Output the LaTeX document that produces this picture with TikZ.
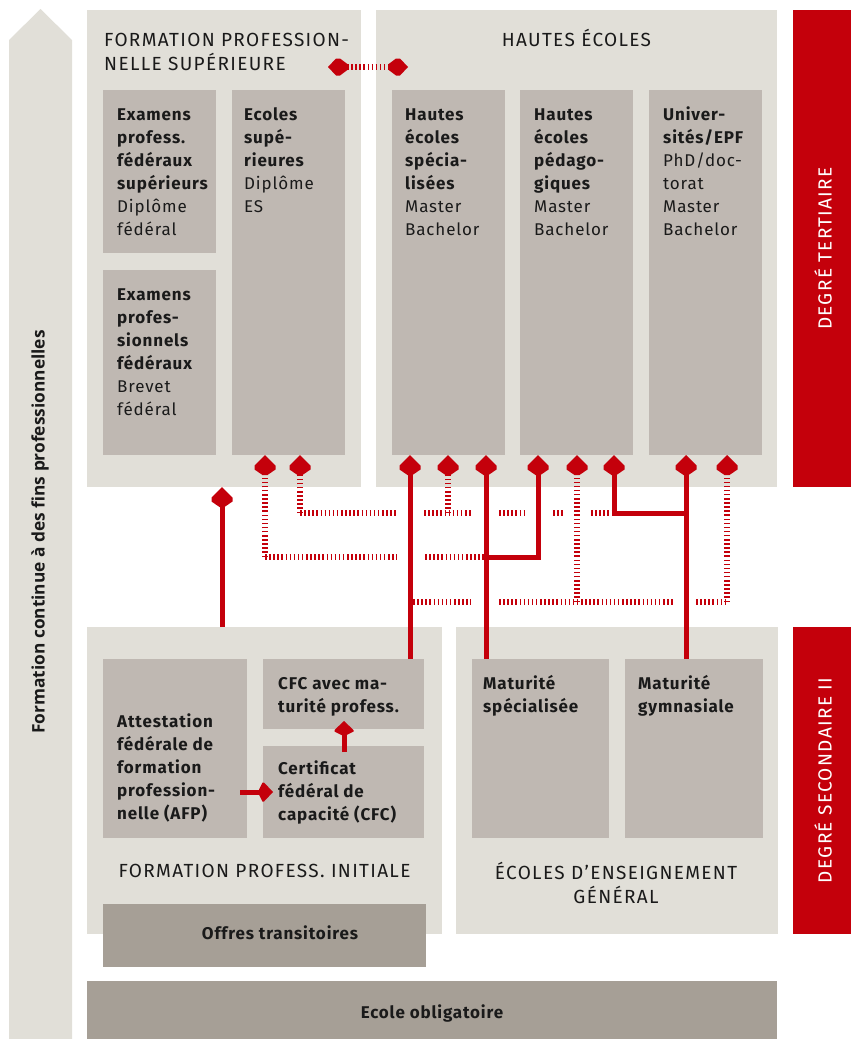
\documentclass[tikz,border=0pt]{standalone}
\usepackage{fontspec}
\setmainfont{Fira Sans}[LetterSpace=5]
\newfontfamily\headfont{Fira Sans}[LetterSpace=7]
\newfontfamily\sidefont{Open Sans}
\usetikzlibrary{arrows.meta,calc}
\definecolor{beige}{HTML}{E1DFD8}
\definecolor{boxgray}{HTML}{BFB8B2}
\definecolor{darkgray}{HTML}{A69F96}
\definecolor{swissred}{HTML}{C4000B}
\definecolor{txt}{HTML}{1A1A1A}
\newcommand\celltxt{\fontsize{17}{23}\selectfont}
\newcommand\headtxt{\headfont\fontsize{19}{24}\selectfont}
\newcommand\fs{\rule{0pt}{16pt}}
\pgfdeclarearrow{
  name = SwissHead,
  setup code = {
    \pgfarrowssettipend{20pt}
    \pgfarrowssetlineend{1pt}
    \pgfarrowssetbackend{0pt}
    \pgfarrowssetvisualbackend{0pt}
  },
  drawing code = {
    \pgfpathmoveto{\pgfqpoint{20pt}{0pt}}
    \pgfpathlineto{\pgfqpoint{9.5pt}{10.5pt}}
    \pgfpathlineto{\pgfqpoint{5.5pt}{10.5pt}}
    \pgfpathlineto{\pgfqpoint{0pt}{2.5pt}}
    \pgfpathlineto{\pgfqpoint{0pt}{-2.5pt}}
    \pgfpathlineto{\pgfqpoint{5.5pt}{-10.5pt}}
    \pgfpathlineto{\pgfqpoint{9.5pt}{-10.5pt}}
    \pgfpathclose
    \pgfusepathqfill
  }
}
\pgfdeclarearrow{
  name = SwissSmall,
  setup code = {
    \pgfarrowssettipend{14pt}
    \pgfarrowssetlineend{1pt}
    \pgfarrowssetbackend{0pt}
    \pgfarrowssetvisualbackend{0pt}
  },
  drawing code = {
    \pgfpathmoveto{\pgfqpoint{14pt}{0pt}}
    \pgfpathlineto{\pgfqpoint{5pt}{9.5pt}}
    \pgfpathlineto{\pgfqpoint{3.5pt}{9.5pt}}
    \pgfpathlineto{\pgfqpoint{0pt}{2.5pt}}
    \pgfpathlineto{\pgfqpoint{0pt}{-2.5pt}}
    \pgfpathlineto{\pgfqpoint{3.5pt}{-9.5pt}}
    \pgfpathlineto{\pgfqpoint{5pt}{-9.5pt}}
    \pgfpathclose
    \pgfusepathqfill
  }
}
\pgfdeclarearrow{
  name = SwissSide,
  setup code = {
    \pgfarrowssettipend{20pt}
    \pgfarrowssetlineend{1pt}
    \pgfarrowssetbackend{0pt}
    \pgfarrowssetvisualbackend{0pt}
  },
  drawing code = {
    \pgfpathmoveto{\pgfqpoint{20pt}{0pt}}
    \pgfpathlineto{\pgfqpoint{12pt}{8.5pt}}
    \pgfpathlineto{\pgfqpoint{8pt}{8.5pt}}
    \pgfpathlineto{\pgfqpoint{0pt}{2.5pt}}
    \pgfpathlineto{\pgfqpoint{0pt}{-2.5pt}}
    \pgfpathlineto{\pgfqpoint{8pt}{-8.5pt}}
    \pgfpathlineto{\pgfqpoint{12pt}{-8.5pt}}
    \pgfpathclose
    \pgfusepathqfill
  }
}
\tikzset{
  area/.style={fill=beige, inner sep=0pt, outer sep=0pt, anchor=north west},
  cell/.style={fill=boxgray, inner sep=0pt, outer sep=0pt, anchor=north west},
  darkcell/.style={fill=darkgray, inner sep=0pt, outer sep=0pt, anchor=north west},
  redbar/.style={fill=swissred, inner sep=0pt, outer sep=0pt, anchor=north west},
  celltext/.style={anchor=north west, inner sep=0pt, align=left, font=\celltxt, text=txt},
  headtext/.style={inner sep=0pt, font=\headtxt, text=txt},
  bartext/.style={inner sep=0pt, font=\headtxt, text=white, rotate=90},
  solidline/.style={draw=swissred, line width=5pt, line join=miter},
  solidarrow/.style={solidline, -SwissHead},
  dotline/.style={draw=swissred, line width=5.5pt, dash pattern=on 1.5pt off 2.6pt},
  dotarrow/.style={dotline, -SwissHead},
}
\begin{document}
\begin{tikzpicture}[x=1pt,y=-1pt]
\useasboundingbox (0,0) rectangle (851,1039);

% left big arrow
\fill[beige] (9,1039) -- (9,40) -- (40.5,9) -- (72,40) -- (72,1039) -- cycle;
\node[bartext, text=txt, font=\sidefont\bfseries\fontsize{17.3}{20}\selectfont] (side) at (40,532) {Formation continue à des fins professionnelles};

% areas
\node[area, minimum width=274pt, minimum height=477pt] (fps) at (87,10) {};
\node[area, minimum width=401pt, minimum height=477pt] (he) at (376,10) {};
\node[redbar, minimum width=58pt, minimum height=477pt] (rt) at (793,10) {};
\node[area, minimum width=355pt, minimum height=307pt] (fpi) at (87,627) {};
\node[area, minimum width=322pt, minimum height=307pt] (eeg) at (456,627) {};
\node[redbar, minimum width=58pt, minimum height=307pt] (rs) at (793,627) {};

% cells tertiary
\node[cell, minimum width=113pt, minimum height=163pt] (efs) at (103,90) {};
\node[cell, minimum width=113pt, minimum height=185pt] (ef) at (103,270) {};
\node[cell, minimum width=113pt, minimum height=365pt] (ecs) at (232,90) {};
\node[cell, minimum width=113pt, minimum height=365pt] (hes) at (392,90) {};
\node[cell, minimum width=113pt, minimum height=365pt] (hep) at (520,90) {};
\node[cell, minimum width=113pt, minimum height=365pt] (uni) at (649,90) {};

% cells secondary
\node[cell, minimum width=144pt, minimum height=179pt] (afp) at (103,659) {};
\node[cell, minimum width=161pt, minimum height=70pt] (cfcm) at (263,659) {};
\node[cell, minimum width=161pt, minimum height=92pt] (cfc) at (263,746) {};
\node[cell, minimum width=137pt, minimum height=179pt] (mats) at (472,659) {};
\node[cell, minimum width=138pt, minimum height=179pt] (matg) at (625,659) {};
\node[darkcell, minimum width=323pt, minimum height=63pt] (offres) at (103,904) {};
\node[darkcell, minimum width=690pt, minimum height=58pt] (eo) at (87,981) {};

% column and row coordinates
\coordinate (xA) at (222,0);
\coordinate (xB) at (265,0);
\coordinate (xC) at (300,0);
\coordinate (xD) at (410,0);
\coordinate (xE) at (448,0);
\coordinate (xF) at (486,0);
\coordinate (xG) at (538,0);
\coordinate (xH) at (577,0);
\coordinate (xI) at (614,0);
\coordinate (xJ) at (686,0);
\coordinate (xK) at (727,0);
\coordinate (jF) at (486,557);
\coordinate (jJ) at (686,513);

% solid connectors
\draw[solidarrow] (fpi.north -| xA) -- (fps.south -| xA);
\draw[solidarrow] (cfcm.north -| xD) -- (hes.south -| xD);
\draw[solidarrow] (mats.north -| xF) -- (hes.south -| xF);
\draw[solidarrow] (jF) -| (hep.south -| xG);
\draw[solidarrow] (matg.north -| xJ) -- (uni.south -| xJ);
\draw[solidarrow] (jJ) -| (hep.south -| xI);

% dotted corner points
\coordinate (dB) at (265,557);
\coordinate (dC) at (300,513);
\coordinate (dE) at (448,513);
\coordinate (dH) at (577,602);
\coordinate (dK) at (727,602);

% dotted verticals
\draw[dotarrow] (dB) -- (ecs.south -| xB);
\draw[dotarrow] (dC) -- (ecs.south -| xC);
\draw[dotarrow] (dE) -- (hes.south -| xE);
\draw[dotarrow] (dH) -- (hep.south -| xH);
\draw[dotarrow] (dK) -- (uni.south -| xK);

% dotted horizontals (interrupted at crossings)
\coordinate (h1a) at (397,513); \coordinate (h1b) at (424,513);
\coordinate (h1c) at (472,513); \coordinate (h1d) at (499,513);
\coordinate (h1e) at (526,513); \coordinate (h1f) at (553,513);
\coordinate (h1g) at (563,513); \coordinate (h1h) at (591,513);
\coordinate (h1i) at (612,513);
\draw[dotline] (dC) -- (h1a);
\draw[dotline] (h1b) -- (h1c);
\draw[dotline] (h1d) -- (h1e);
\draw[dotline] (h1f) -- (h1g);
\draw[dotline] (h1h) -- (h1i);

\coordinate (h2a) at (397,557); \coordinate (h2b) at (425,557);
\coordinate (h2c) at (484,557);
\draw[dotline] (dB) -- (h2a);
\draw[dotline] (h2b) -- (h2c);

\coordinate (h3a) at (413,602); \coordinate (h3b) at (471,602);
\coordinate (h3c) at (499,602); \coordinate (h3d) at (675,602);
\coordinate (h3e) at (696,602);
\draw[dotline] (h3a) -- (h3b);
\draw[dotline] (h3c) -- (h3d);
\draw[dotline] (h3e) -- (dK);

% top double arrow
\coordinate (dl) at (328,67);
\coordinate (dr) at (408,67);
\draw[dotline, SwissSide-SwissSide] (dl) -- (dr);

% small arrows in secondary level
\coordinate (sa1) at (240,792);
\coordinate (sa2) at (273,792);
\draw[solidline, -SwissSmall] (sa1) -- (sa2);
\coordinate (sb1) at (344,752);
\coordinate (sb2) at (344,721);
\draw[solidline, -SwissSmall] (sb1) -- (sb2);

% headings
\node[headtext, anchor=north west, align=left] (t-fps) at (104,30) {\fs FORMATION PROFESSION-\\NELLE SUPÉRIEURE};
\node[headtext, anchor=base] (t-he) at (576.5,46) {HAUTES ÉCOLES};
\node[headtext, anchor=base] (t-fpi) at (264.5,877) {FORMATION PROFESS. INITIALE};
\node[headtext, anchor=north, align=center] (t-eeg) at (616,862) {\fs ÉCOLES D’ENSEIGNEMENT\\GÉNÉRAL};
\node[bartext] (t-rt) at (823,248.5) {DEGRÉ TERTIAIRE};
\node[bartext] (t-rs) at (823,780.5) {DEGRÉ SECONDAIRE II};

% cell texts
\node[celltext] (t-efs) at (117,104) {\fs\textbf{Examens}\\\textbf{profess.}\\\textbf{fédéraux}\\\textbf{supérieurs}\\Diplôme\\fédéral};
\node[celltext] (t-ef) at (117,284) {\fs\textbf{Examens}\\\textbf{profes-}\\\textbf{sionnels}\\\textbf{fédéraux}\\Brevet\\fédéral};
\node[celltext] (t-ecs) at (244,104) {\fs\textbf{Ecoles}\\\textbf{supé-}\\\textbf{rieures}\\Diplôme\\ES};
\node[celltext] (t-hes) at (405,104) {\fs\textbf{Hautes}\\\textbf{écoles}\\\textbf{spécia-}\\\textbf{lisées}\\Master\\Bachelor};
\node[celltext] (t-hep) at (534,104) {\fs\textbf{Hautes}\\\textbf{écoles}\\\textbf{pédago-}\\\textbf{giques}\\Master\\Bachelor};
\node[celltext] (t-uni) at (663,104) {\fs\textbf{Univer-}\\\textbf{sités/EPF}\\PhD/doc-\\torat\\Master\\Bachelor};

\node[celltext] (t-afp) at (117,711) {\fs\textbf{Attestation}\\\textbf{fédérale de}\\\textbf{formation}\\\textbf{profession-}\\\textbf{nelle (AFP)}};
\node[celltext] (t-cfcm) at (278,673) {\fs\textbf{CFC avec ma-}\\\textbf{turité profess.}};
\node[celltext] (t-cfc) at (278,758) {\fs\textbf{Certificat}\\\textbf{fédéral de}\\\textbf{capacité (CFC)}};
\node[celltext] (t-mats) at (483,673) {\fs\textbf{Maturité}\\\textbf{spécialisée}};
\node[celltext] (t-matg) at (638,673) {\fs\textbf{Maturité}\\\textbf{gymnasiale}};

\node[inner sep=0pt, anchor=base, font=\celltxt\bfseries, text=txt] (t-offres) at (280,939) {Offres transitoires};
\node[inner sep=0pt, anchor=base, font=\celltxt\bfseries, text=txt] (t-eo) at (432,1018) {Ecole obligatoire};
\end{tikzpicture}
\end{document}
